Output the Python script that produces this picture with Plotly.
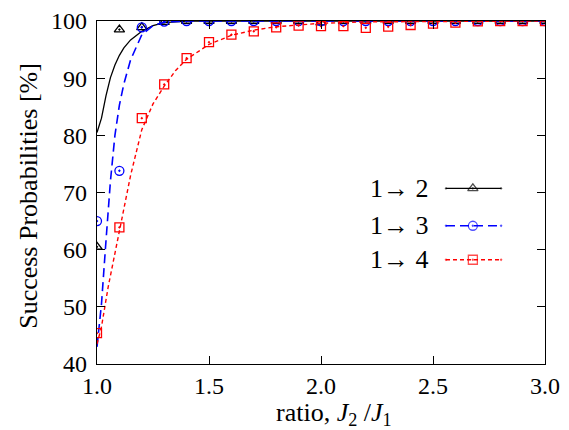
import plotly.graph_objects as go

# ---- data ----
x_pts = [1.0, 1.1, 1.2, 1.3, 1.4, 1.5, 1.6, 1.7, 1.8, 1.9, 2.0,
         2.1, 2.2, 2.3, 2.4, 2.5, 2.6, 2.7, 2.8, 2.9, 3.0]
p12 = [60.5, 98.5, 98.9, 99.8, 100, 100, 100, 100, 100, 100, 99.7,
       100, 100, 100, 100, 100, 100, 100, 100, 100, 100]
p13 = [65.0, 73.8, 98.9, 99.9, 100, 100, 100, 100, 100, 100, 100,
       100, 100, 100, 100, 100, 100, 100, 100, 100, 100]
p14 = [45.4, 63.9, 83.0, 88.9, 93.5, 96.3, 97.6, 98.2, 98.9, 99.2, 99.1,
       99.1, 98.8, 99.0, 99.3, 99.55, 99.7, 99.95, 100, 100, 100]

# fitted curves
fx12 = [1.0, 1.02, 1.04, 1.06, 1.08, 1.1, 1.12, 1.15, 1.2, 1.25, 1.3, 1.4, 1.5, 3.0]
fy12 = [80.5, 83.0, 86.9, 90.1, 92.3, 94.0, 95.3, 96.7, 98.2, 99.2, 99.7, 100, 100, 100]
fx13 = [1.0, 1.02, 1.04, 1.06, 1.08, 1.1, 1.12, 1.15, 1.2, 1.25, 1.3, 1.4, 1.5, 3.0]
fy13 = [43.0, 50.5, 61.5, 72.0, 80.0, 85.3, 89.0, 93.2, 97.6, 99.2, 99.8, 100, 100, 100]
fx14 = [1.0, 1.02, 1.05, 1.1, 1.15, 1.2, 1.25, 1.3, 1.35, 1.4, 1.5, 1.6, 1.7, 1.8,
        2.0, 2.2, 2.5, 3.0]
fy14 = [43.5, 46.5, 53.5, 63.5, 73.0, 81.0, 85.5, 88.6, 91.3, 93.3, 95.9, 97.5,
        98.4, 99.0, 99.6, 99.85, 99.95, 100]

names = ["1\u2192 2", "1\u2192 3", "1\u2192 4"]
colors = ["#000000", "#0000ff", "#ff0000"]
symbols = ["triangle-up-open-dot", "circle-open-dot", "square-open-dot"]
dashes = ["solid", "9px,5px", "4px,3px"]
widths = [1.3, 1.6, 1.4]

y_ticks = [40, 50, 60, 70, 80, 90, 100]
x_ticks = [1.0, 1.5, 2.0, 2.5, 3.0]

FONT = "Liberation Serif, Times New Roman, Times, serif"

fig = go.Figure()
series = [(fx12, fy12, p12), (fx13, fy13, p13), (fx14, fy14, p14)]
for i, (fx, fy, p) in enumerate(series):
    fig.add_trace(go.Scatter(x=fx, y=fy, mode="lines", name=names[i],
                             line=dict(color=colors[i], width=widths[i], dash=dashes[i]),
                             showlegend=False, hoverinfo="skip"))
    fig.add_trace(go.Scatter(x=x_pts, y=p, mode="markers", name=names[i],
                             marker=dict(symbol=symbols[i], size=9, color=colors[i],
                                         line=dict(color=colors[i], width=1.3)),
                             showlegend=False))

# manual legend (text left, key right) on an overlay axis in [0,1]
leg_y = [0.512, 0.403, 0.304]
for i in range(3):
    fig.add_trace(go.Scatter(x=[0.779, 0.839, 0.902], y=[leg_y[i]] * 3,
                             xaxis="x2", yaxis="y2", mode="lines+markers",
                             line=dict(color=colors[i], width=widths[i], dash=dashes[i]),
                             marker=dict(symbol=symbols[i], size=[0, 9, 0], color=colors[i],
                                         line=dict(color=colors[i], width=1.3)),
                             showlegend=False, hoverinfo="skip"))
    fig.add_annotation(x=0.745, y=leg_y[i], xref="paper", yref="paper",
                       text=names[i], showarrow=False, xanchor="right", yanchor="middle",
                       font=dict(family=FONT, size=26, color="black"))

axis_common = dict(showline=True, linecolor="black", linewidth=1.3, mirror="ticks",
                   ticks="inside", ticklen=8, tickwidth=1.2, tickcolor="black",
                   showgrid=False, zeroline=False, automargin=False,
                   tickfont=dict(family=FONT, size=24, color="black"))

# the page body adds an 8px offset; size/margins compensate so the plot box lands
# at the reference position in the 569x430 window
fig.update_layout(
    width=561, height=422,
    margin=dict(l=89, r=24, t=13, b=66),
    paper_bgcolor="white", plot_bgcolor="white",
    showlegend=False,
    xaxis=dict(range=[1.0, 3.0], tickvals=x_ticks, tickformat=".1f", **axis_common),
    yaxis=dict(range=[40, 100], tickvals=y_ticks, ticklabelstandoff=4, **axis_common),
    xaxis2=dict(overlaying="x", range=[0, 1], visible=False),
    yaxis2=dict(overlaying="y", range=[0, 1], visible=False),
)

fig.add_annotation(x=0.53, y=-0.147, xref="paper", yref="paper", showarrow=False,
                   text="ratio, <i>J</i><sub>2</sub> /<i>J</i><sub>1</sub>",
                   xanchor="center", yanchor="middle",
                   font=dict(family=FONT, size=26, color="black"))
fig.add_annotation(x=-0.152, y=0.49, xref="paper", yref="paper", showarrow=False,
                   text="Success Probabilities [%]", textangle=-90,
                   xanchor="center", yanchor="middle",
                   font=dict(family=FONT, size=26, color="black"))

fig.write_html("out.html")
